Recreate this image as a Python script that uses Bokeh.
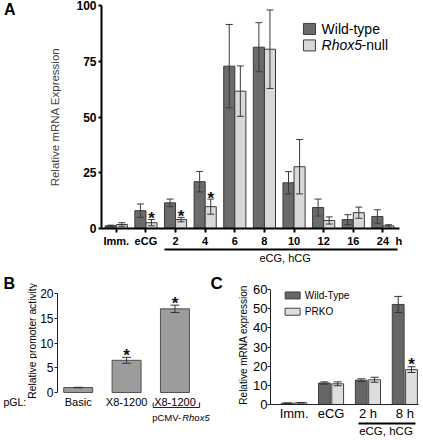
import math
from bokeh.plotting import figure
from bokeh.models import (Range1d, FixedTicker, LinearAxis, ColumnDataSource,
                          Whisker, TeeHead)
from bokeh.layouts import column, row
from bokeh.embed import file_html
from bokeh.resources import INLINE
from bokeh.core.properties import value

FONT = "Liberation Sans"

# ---------------- Panel A data ----------------
a_groups = ["Imm.", "eCG", "2", "4", "6", "8", "10", "12", "16", "24"]
a_unit = "h"
a_wt = [1.2, 8.0, 11.5, 21.0, 72.8, 81.3, 20.5, 9.4, 4.0, 5.4]
a_wt_err = [0.3, 3.0, 1.7, 4.6, 18.7, 11.0, 5.0, 3.8, 2.2, 3.0]
a_null = [1.8, 2.6, 4.0, 9.8, 61.6, 80.4, 27.7, 3.6, 7.1, 1.2]
a_null_err = [0.8, 1.4, 1.0, 3.4, 11.3, 17.6, 12.2, 1.6, 2.5, 0.5]
a_null_sig = [False, True, True, True, False, False, False, False, False, False]
a_yticks = [0, 25, 50, 75, 100]
a_legend = ["Wild-type", "Rhox5", "-null"]
a_bracket = "eCG, hCG"

# ---------------- Panel B data ----------------
b_prefix = "pGL:"
b_ylabel = "Relative  promoter activity"
b_labels = ["Basic", "X8-1200", "X8-1200"]
b_vals = [1.0, 6.5, 16.9]
b_err = [0.05, 0.6, 0.75]
b_sig = [False, True, True]
b_yticks = [0, 5, 10, 15, 20]
b_bracket = ["pCMV-", "Rhox5"]

# ---------------- Panel C data ----------------
c_groups = ["Imm.", "eCG", "2 h", "8 h"]
c_ylabel = "Relative  mRNA expression"
c_wt = [0.7, 11.2, 12.7, 52.2]
c_wt_err = [0.1, 0.6, 0.7, 4.2]
c_ko = [0.9, 10.8, 12.9, 18.2]
c_ko_err = [0.15, 1.0, 1.3, 1.5]
c_ko_sig = [False, False, False, True]
c_yticks = [0, 10, 20, 30, 40, 50, 60]
c_legend = ["Wild-Type", "PRKO"]
c_bracket = "eCG, hCG"


def base_fig(**kw):
    p = figure(output_backend="svg", toolbar_location=None, **kw)
    p.outline_line_color = None
    p.xgrid.visible = False
    p.ygrid.visible = False
    p.background_fill_color = "white"
    p.border_fill_color = "white"
    for ax in p.axis:
        ax.major_label_text_font = FONT
        ax.axis_label_text_font = FONT
        ax.axis_label_text_font_style = "normal"
        ax.minor_tick_line_color = None
        ax.major_tick_in = 0
        ax.major_label_text_color = "black"
        ax.axis_line_color = "black"
        ax.major_tick_line_color = "black"
    return p


def gutter(width, height):
    # text-only strip; its ranges are in pixels so labels can be placed beside a panel
    g = figure(width=width, height=height, x_range=Range1d(0, width), y_range=Range1d(0, height),
               x_axis_location=None, y_axis_location=None, output_backend="svg",
               toolbar_location=None, min_border=0)
    g.outline_line_color = None
    g.xgrid.visible = False
    g.ygrid.visible = False
    return g


def text_axis(ticks, labels, size, standoff, style="normal"):
    return LinearAxis(ticker=FixedTicker(ticks=ticks),
                      major_label_overrides={t: l for t, l in zip(ticks, labels)},
                      axis_line_color=None, major_tick_line_color=None, minor_tick_line_color=None,
                      major_label_text_font=FONT, major_label_text_font_size=size,
                      major_label_text_font_style=style, major_label_standoff=standoff,
                      major_label_text_color="black")


def whiskers(p, x, lo, hi, color, size):
    src = ColumnDataSource(dict(x=x, lo=lo, hi=hi))
    w = Whisker(base="x", lower="lo", upper="hi", source=src, dimension="height",
                line_color=color, line_width=1, level="overlay",
                upper_head=TeeHead(size=size, line_color=color, line_width=1),
                lower_head=TeeHead(size=size, line_color=color, line_width=1))
    p.add_layout(w)


def stars(p, xs, vals, errs, sig, y_offset):
    sx = [x for x, s in zip(xs, sig) if s]
    sy = [v + e for v, e, s in zip(vals, errs, sig) if s]
    p.text(x=sx, y=sy, text=["*"] * len(sx), text_font=value(FONT), text_font_size="17px",
           text_font_style="bold", text_align="center", text_baseline="middle",
           y_offset=y_offset, text_color="#111111")


# ====================== Panel A ======================
A_DARK, A_LIGHT, A_EDGE = "#6b6b6b", "#d8d8d8", "#3a3a3a"
pA = base_fig(width=423, height=266, x_range=Range1d(0, 10.06), y_range=Range1d(0, 100),
              min_border_left=77, min_border_right=24, min_border_top=5, min_border_bottom=37)
ax_pos = [i + 0.5 for i in range(len(a_groups))]
off, bw = 0.187, 0.374
xw = [x - off for x in ax_pos]
xn = [x + off for x in ax_pos]
pA.vbar(x=xw, top=a_wt, width=bw, fill_color=A_DARK, line_color=A_EDGE, line_width=1)
pA.vbar(x=xn, top=a_null, width=bw, fill_color=A_LIGHT, line_color=A_EDGE, line_width=1)
whiskers(pA, xw, [v - e for v, e in zip(a_wt, a_wt_err)], [v + e for v, e in zip(a_wt, a_wt_err)], A_EDGE, 7)
whiskers(pA, xn, [v - e for v, e in zip(a_null, a_null_err)], [v + e for v, e in zip(a_null, a_null_err)], A_EDGE, 7)
stars(pA, xn, a_null, a_null_err, a_null_sig, -1)

xa = pA.xaxis[0]
h_pos = 10.04
xa.ticker = FixedTicker(ticks=ax_pos + [h_pos], minor_ticks=ax_pos)
overrides = {x: g for x, g in zip(ax_pos, a_groups)}
overrides[h_pos] = a_unit
xa.major_label_overrides = overrides
xa.major_label_text_font_size = "11px"
xa.major_label_text_font_style = "bold"
xa.axis_line_width = 2
xa.major_tick_line_color = None
xa.major_tick_out = 4
xa.minor_tick_line_color = "black"
xa.minor_tick_line_width = 2
xa.minor_tick_out = 4
xa.minor_tick_in = 0
xa.major_label_standoff = 2

ya = pA.yaxis[0]
ya.ticker = FixedTicker(ticks=a_yticks)
ya.major_label_text_font_size = "12px"
ya.major_label_text_font_style = "bold"
ya.axis_line_width = 2
ya.major_tick_line_width = 2
ya.major_tick_out = 3
ya.major_label_standoff = 2
ya.axis_label = "Relative mRNA Expression"
ya.axis_label_text_font_size = "11.5px"
ya.axis_label_standoff = 12

ax2 = LinearAxis(ticker=FixedTicker(ticks=[6.2]), major_label_overrides={6.2: a_bracket},
                 bounds=(2.12, 10.0), axis_line_width=2, axis_line_color="black",
                 major_tick_in=0, major_tick_out=0, minor_tick_line_color=None,
                 major_label_text_font=FONT, major_label_text_font_size="11px",
                 major_label_standoff=2, major_label_text_color="black")
pA.add_layout(ax2, "below")
pA.add_layout(text_axis([98.7], ["A"], "16px", 25, style="bold"), "left")

# legend A
pA.rect(x=[7.02, 7.02], y=[89.5, 82.1], width=12, height=11, width_units="screen",
        height_units="screen", fill_color=[A_DARK, A_LIGHT], line_color=A_EDGE)
pA.text(x=[7.43], y=[89.5], text=[a_legend[0]], text_font=value(FONT), text_font_size="14px",
        text_baseline="middle", text_align="left")
pA.text(x=[7.43], y=[82.1], text=[a_legend[1]], text_font=value(FONT), text_font_size="14px",
        text_font_style="italic", text_baseline="middle", text_align="left")
pA.text(x=[7.43], y=[82.1], text=[a_legend[2]], text_font=value(FONT), text_font_size="14px",
        text_baseline="middle", text_align="left", x_offset=40)

# ====================== Panel B ======================
B_FILL, B_EDGE = "#9c9c9c", "#505050"
gB = gutter(37, 174)
gB.text(x=[3], y=[157], text=["B"], text_font=value(FONT), text_font_size="16px",
        text_font_style="bold", text_align="left", text_baseline="middle")
gB.text(x=[32], y=[101], text=[b_ylabel], text_font=value(FONT), text_font_size="10.3px",
        text_align="center", text_baseline="middle", angle=math.pi / 2)
gB.text(x=[3], y=[39], text=[b_prefix], text_font=value(FONT), text_font_size="10.5px",
        text_align="left", text_baseline="middle")

pB = base_fig(width=173, height=174, x_range=Range1d(-0.4286, 2.735), y_range=Range1d(-9.70, 23.64),
              x_axis_location=None,
              min_border_left=18, min_border_right=0, min_border_top=9, min_border_bottom=0)
bx = list(range(len(b_vals)))
pB.vbar(x=bx, top=b_vals, width=0.6, fill_color=B_FILL, line_color=B_EDGE)
whiskers(pB, bx, [v - e for v, e in zip(b_vals, b_err)], [v + e for v, e in zip(b_vals, b_err)], "#333333", 9)
stars(pB, bx, b_vals, b_err, b_sig, -2)
yb = pB.yaxis[0]
yb.ticker = FixedTicker(ticks=b_yticks)
yb.bounds = (0, 20)
yb.major_label_text_font_size = "12px"
yb.major_tick_out = 3
yb.major_label_standoff = 1
yb.axis_line_color = "#222222"
yb.major_tick_line_color = "#222222"
# category labels, bracket and construct label under the bars
pB.text(x=bx, y=[-1.82] * len(bx), text=b_labels, text_font=value(FONT), text_font_size="11px",
        text_align="center", text_baseline="middle")
pB.line(x=[1.55, 1.55, 2.51, 2.51], y=[-2.02, -3.03, -3.03, -2.02], line_color="#222222", line_width=1)
pB.text(x=[1.53], y=[-5.05], text=[b_bracket[0]], text_font=value(FONT), text_font_size="9.5px",
        text_align="left", text_baseline="middle")
pB.text(x=[1.53], y=[-5.05], text=[b_bracket[1]], text_font=value(FONT), text_font_size="9.5px",
        text_font_style="italic", text_align="left", text_baseline="middle", x_offset=30)

# ====================== Panel C ======================
C_DARK, C_LIGHT, C_EDGE = "#666666", "#dedede", "#404040"
gC = gutter(40, 174)
gC.text(x=[0], y=[157], text=["C"], text_font=value(FONT), text_font_size="17px",
        text_font_style="bold", text_align="left", text_baseline="middle")
gC.text(x=[33], y=[97], text=[c_ylabel], text_font=value(FONT), text_font_size="10px",
        text_align="center", text_baseline="middle", angle=math.pi / 2)

pC = base_fig(width=173, height=174, x_range=Range1d(-0.64, 3.37), y_range=Range1d(0, 60),
              min_border_left=18, min_border_right=5, min_border_top=23, min_border_bottom=36)
cx = list(range(len(c_groups)))
coff, cbw = 0.18, 0.32
cxw = [x - coff for x in cx]
cxk = [x + coff for x in cx]
pC.vbar(x=cxw, top=c_wt, width=cbw, fill_color=C_DARK, line_color=C_EDGE)
pC.vbar(x=cxk, top=c_ko, width=cbw, fill_color=C_LIGHT, line_color=C_EDGE)
whiskers(pC, cxw, [v - e for v, e in zip(c_wt, c_wt_err)], [v + e for v, e in zip(c_wt, c_wt_err)], "#333333", 8)
whiskers(pC, cxk, [v - e for v, e in zip(c_ko, c_ko_err)], [v + e for v, e in zip(c_ko, c_ko_err)], "#333333", 8)
stars(pC, cxk, c_ko, c_ko_err, c_ko_sig, -2)
xc = pC.xaxis[0]
xc.ticker = FixedTicker(ticks=cx)
xc.major_label_overrides = {x: g for x, g in zip(cx, c_groups)}
xc.major_tick_out = 0
xc.major_tick_line_color = None
xc.major_label_text_font_size = "13px"
xc.major_label_standoff = 1
xc.axis_line_color = "#222222"
yc = pC.yaxis[0]
yc.ticker = FixedTicker(ticks=c_yticks)
yc.major_label_text_font_size = "13px"
yc.major_tick_out = 3
yc.major_label_standoff = 0
yc.axis_line_color = "#222222"
yc.major_tick_line_color = "#222222"
cx2 = LinearAxis(ticker=FixedTicker(ticks=[2.49]), major_label_overrides={2.49: c_bracket},
                 bounds=(1.74, 3.29), axis_line_width=2, axis_line_color="black",
                 major_tick_in=0, major_tick_out=0, minor_tick_line_color=None,
                 major_label_text_font=FONT, major_label_text_font_size="11.5px",
                 major_label_standoff=1, major_label_text_color="black")
pC.add_layout(cx2, "below")
# legend C
pC.rect(x=[-0.04, -0.04], y=[56.9, 48.4], width=15, height=7, width_units="screen",
        height_units="screen", fill_color=[C_DARK, C_LIGHT], line_color=C_EDGE)
pC.text(x=[0.29, 0.29], y=[56.9, 48.4], text=c_legend, text_font=value(FONT),
        text_font_size="10px", text_baseline="middle", text_align="left")

layout = column(pA, row(column(gB), column(pB), column(gC), column(pC)))
open("out.html", "w").write(file_html(layout, INLINE))
